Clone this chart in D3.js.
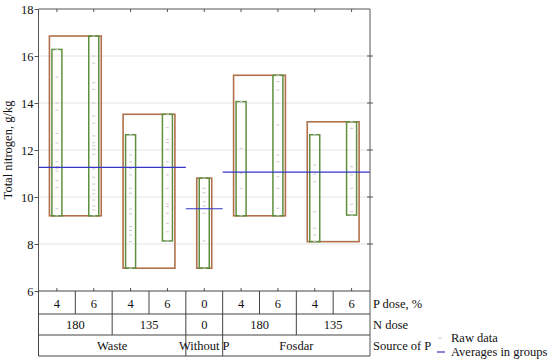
<!DOCTYPE html>
<html lang="en">
<head>
<meta charset="UTF-8">
<title>Total nitrogen variability chart</title>
<style>
    body { margin: 0; background: #fff; }
    svg text { font-family: "Liberation Serif", "Times New Roman", Times, serif; font-size: 12.5px; fill: #111; }
    .grid line { stroke: #e4e4e4; }
    .frame { stroke: #555; fill: none; }
    .tbl { stroke: #444; }
</style>
</head>
<body>
<svg id="chart" width="550" height="363" font-family="Liberation Serif, serif"></svg>
<script src="https://d3js.org/d3.v7.min.js"></script>
<script>
// categories (one column per cell)
const pDose = ["4", "6", "4", "6", "0", "4", "6", "4", "6"];
const nDoseLabels = ["180", "135", "0", "180", "135"];
const nDoseSpans = [2, 2, 1, 2, 2];
const sourceLabels = ["Waste", "Without P", "Fosdar"];
const sourceSpans = [4, 1, 4];

// raw data per cell, g/kg
const rawData = [
    [16.28, 15.1, 14.0, 13.7, 12.7, 12.3, 12.0, 11.5, 11.3, 11.2, 11.1, 10.7, 10.4, 9.5, 9.2],
    [16.85, 16.0, 15.7, 14.86, 14.58, 14.0, 13.45, 13.14, 12.6, 12.31, 12.18, 12.03, 11.82, 11.19, 10.84, 10.55, 10.3, 10.13, 9.87, 9.62, 9.45, 9.2],
    [12.65, 11.79, 11.5, 11.22, 10.94, 10.37, 10.16, 9.49, 9.28, 8.74, 8.57, 8.38, 8.1, 6.97],
    [13.52, 12.95, 12.45, 12.31, 12.03, 11.5, 10.94, 10.37, 9.7, 9.59, 9.31, 8.88, 8.52, 8.13],
    [10.8, 10.37, 10.18, 9.8, 9.62, 9.31, 8.13, 6.97],
    [14.06, 12.07, 11.01, 10.37, 9.2],
    [15.18, 14.91, 14.55, 13.99, 13.06, 11.79, 11.5, 10.86, 10.37, 9.52, 9.2],
    [12.65, 11.36, 10.97, 10.65, 9.37, 8.67, 8.38, 8.1],
    [13.2, 12.92, 11.29, 10.94, 10.37, 9.69, 9.37, 9.23]
];
const groupAverages = [11.26, 9.5, 11.06];
const yTicks = [6, 8, 10, 12, 14, 16, 18];

const svg = d3.select("#chart");
const pLeft = 38.5, pRight = 370, pTop = 9, pBottom = 291;
const rowY = [291, 314, 335, 356];

const x = d3.scaleBand().domain(d3.range(pDose.length)).range([pLeft, pRight]);
const y = d3.scaleLinear().domain([6, 18]).range([pBottom, pTop]);
const cx = i => x(i) + x.bandwidth() / 2;

// grid
svg.append("g").attr("class", "grid")
    .selectAll("line").data(yTicks.slice(1, -1)).join("line")
    .attr("x1", pLeft).attr("x2", pRight)
    .attr("y1", d => y(d)).attr("y2", d => y(d));

// span helper: start/end column index of each group
function spans(arr) {
    let s = 0;
    return arr.map(n => { const r = [s, s + n - 1]; s += n; return r; });
}
const nGroups = spans(nDoseSpans);
const srcGroups = spans(sourceSpans);

// brown group rectangles (N dose groups)
nGroups.forEach(([a, b]) => {
    const vals = d3.merge(rawData.slice(a, b + 1));
    const [lo, hi] = d3.extent(vals);
    svg.append("rect")
        .attr("x", cx(a) - 7.5).attr("width", cx(b) - cx(a) + 15)
        .attr("y", y(hi)).attr("height", y(lo) - y(hi))
        .attr("fill", "none").attr("stroke", "#b0704a").attr("stroke-width", 1.6);
});

// green cell rectangles + raw points
rawData.forEach((vals, i) => {
    const [lo, hi] = d3.extent(vals);
    svg.append("rect")
        .attr("x", cx(i) - 5).attr("width", 10)
        .attr("y", y(hi)).attr("height", y(lo) - y(hi))
        .attr("fill", "none").attr("stroke", "#5f8f3e").attr("stroke-width", 1.5);
    svg.append("g").selectAll("line").data(vals).join("line")
        .attr("x1", cx(i) - 1.5).attr("x2", cx(i) + 1.5)
        .attr("y1", d => y(d)).attr("y2", d => y(d))
        .attr("stroke", "#c8c8c8").attr("stroke-width", 1);
});

// group averages (source of P)
srcGroups.forEach(([a, b], k) => {
    svg.append("line")
        .attr("x1", x(a)).attr("x2", x(b) + x.bandwidth())
        .attr("y1", y(groupAverages[k])).attr("y2", y(groupAverages[k]))
        .attr("stroke", "#3535c8").attr("stroke-width", 1.2);
});

// frame
svg.append("path").attr("class", "frame")
    .attr("d", `M${pLeft},${pBottom}V${pTop}H${pRight}V${rowY[3]}`);

// y axis
const yAxis = svg.append("g")
    .attr("transform", `translate(${pLeft},0)`)
    .call(d3.axisLeft(y).tickValues(yTicks).tickSize(4).tickSizeOuter(0));
yAxis.attr("font-family", null).attr("font-size", null);
yAxis.select(".domain").remove();
yAxis.selectAll("line").attr("stroke", "#555");
yAxis.selectAll("text").attr("fill", null).attr("x", -5);

// right axis ticks (crossing)
svg.append("g").selectAll("line").data(yTicks.slice(1, -1)).join("line")
    .attr("x1", pRight - 3).attr("x2", pRight + 3)
    .attr("y1", d => y(d)).attr("y2", d => y(d)).attr("stroke", "#555");

// top / bottom ticks at cell centres
svg.append("g").selectAll("line").data(d3.range(pDose.length)).join("line")
    .attr("x1", cx).attr("x2", cx).attr("y1", pTop).attr("y2", pTop + 3).attr("stroke", "#555");
svg.append("g").selectAll("line").data(d3.range(pDose.length)).join("line")
    .attr("x1", cx).attr("x2", cx).attr("y1", pBottom).attr("y2", pBottom - 3).attr("stroke", "#555");

// y label
svg.append("text")
    .attr("transform", `translate(12,${(pTop + pBottom) / 2}) rotate(-90)`)
    .attr("text-anchor", "middle")
    .text("Total nitrogen, g/kg");

// table below
const tbl = svg.append("g");
rowY.forEach(yy => tbl.append("line").attr("class", "tbl")
    .attr("x1", pLeft).attr("x2", pRight).attr("y1", yy).attr("y2", yy));
tbl.append("line").attr("class", "tbl").attr("x1", pLeft).attr("x2", pLeft).attr("y1", rowY[0]).attr("y2", rowY[3]);

function tableRow(groups, labels, r) {
    groups.forEach(([a, b], k) => {
        if (a > 0) tbl.append("line").attr("class", "tbl")
            .attr("x1", x(a)).attr("x2", x(a)).attr("y1", rowY[r]).attr("y2", rowY[r + 1]);
        tbl.append("text")
            .attr("x", (x(a) + x(b) + x.bandwidth()) / 2)
            .attr("y", rowY[r + 1] - 6)
            .attr("text-anchor", "middle")
            .text(labels[k]);
    });
}
tableRow(pDose.map((d, i) => [i, i]), pDose, 0);
tableRow(nGroups, nDoseLabels, 1);
tableRow(srcGroups, sourceLabels, 2);

const rowLabels = ["P dose, %", "N dose", "Source of P"];
rowLabels.forEach((t, r) => svg.append("text")
    .attr("x", pRight + 3).attr("y", rowY[r + 1] - 6).text(t));

// legend
svg.append("line").attr("x1", 438).attr("x2", 442).attr("y1", 338).attr("y2", 338)
    .attr("stroke", "#c8c8c8");
svg.append("text").attr("x", 451).attr("y", 342).text("Raw data");
svg.append("line").attr("x1", 437).attr("x2", 445).attr("y1", 352).attr("y2", 352)
    .attr("stroke", "#3535c8").attr("stroke-width", 1.2);
svg.append("text").attr("x", 451).attr("y", 356).text("Averages in groups");
</script>
</body>
</html>
